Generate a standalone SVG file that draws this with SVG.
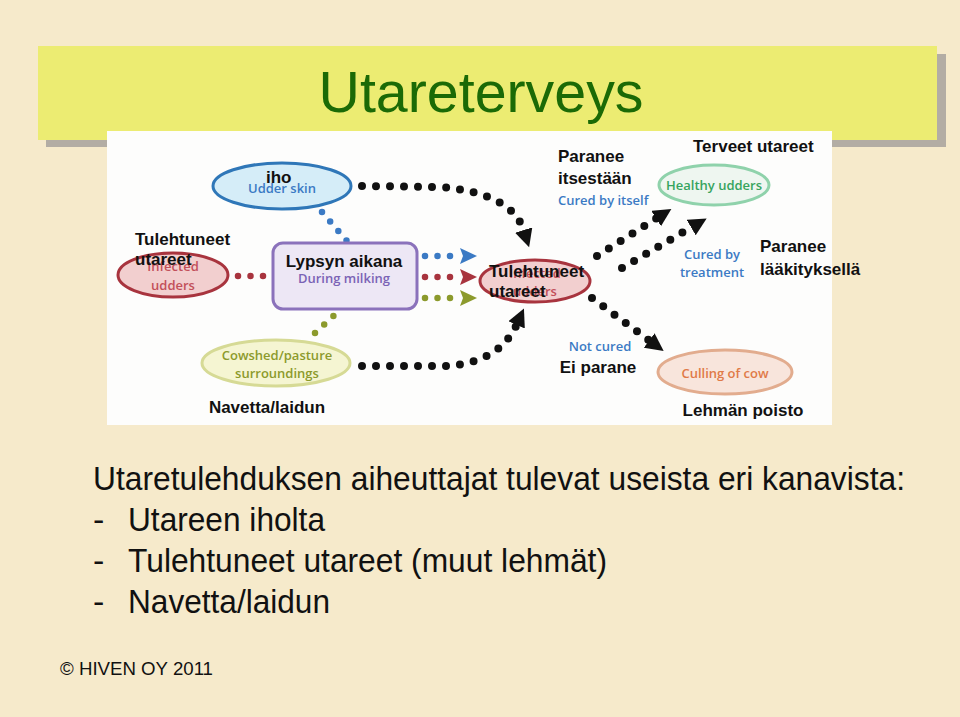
<svg xmlns="http://www.w3.org/2000/svg" width="960" height="717" viewBox="0 0 960 717">
<defs>
<style>
.bl{font-family:"Liberation Sans",Arial,sans-serif;font-weight:bold;font-size:17px;fill:#111}
.en{font-family:"Open Sans","Liberation Sans",sans-serif;font-weight:600;font-size:13px}
.body{font-family:"Liberation Sans Narrow","Liberation Sans",Arial,sans-serif;font-size:34px;fill:#111}
.dotk{fill:none;stroke:#111;stroke-width:8;stroke-linecap:round;stroke-dasharray:0 14}
.dotc{fill:none;stroke-width:6.5;stroke-linecap:round;stroke-dasharray:0 12.5}
</style>
<marker id="ak" markerUnits="userSpaceOnUse" markerWidth="22" markerHeight="22" refX="1" refY="9" orient="auto"><path d="M0,0 L18,9 L0,18 Z" fill="#111"/></marker>
<marker id="ab" markerUnits="userSpaceOnUse" markerWidth="20" markerHeight="20" refX="1" refY="8" orient="auto"><path d="M0,0 L17,8 L0,16 L3,8 Z" fill="#3b7ac4"/></marker>
<marker id="ar" markerUnits="userSpaceOnUse" markerWidth="20" markerHeight="20" refX="1" refY="8" orient="auto"><path d="M0,0 L17,8 L0,16 L3,8 Z" fill="#a8343e"/></marker>
<marker id="ag" markerUnits="userSpaceOnUse" markerWidth="20" markerHeight="20" refX="1" refY="8" orient="auto"><path d="M0,0 L17,8 L0,16 L3,8 Z" fill="#8c9a2c"/></marker>
</defs>
<rect width="960" height="717" fill="#f6eacb"/>
<rect x="46" y="54" width="900" height="93" fill="#b3ada4"/>
<rect x="38" y="46" width="899" height="94" fill="#ecec72"/>
<text x="481" y="112" text-anchor="middle" font-family="Liberation Sans Narrow,Liberation Sans,Arial,sans-serif" font-size="58" fill="#1b6a06" textLength="325" lengthAdjust="spacingAndGlyphs">Utareterveys</text>
<rect x="107" y="131" width="725" height="294" fill="#fdfdfc"/>

<g id="connectors">
<path class="dotk" d="M362,186 L440,187 Q512,193 524,231" marker-end="url(#ak)"/>
<path class="dotk" d="M362,366 L447,366 Q500,362 517,324" marker-end="url(#ak)"/>
<path class="dotk" d="M597,256 L657,218" marker-end="url(#ak)"/>
<path class="dotk" d="M622,268 L692,227" marker-end="url(#ak)"/>
<path class="dotk" d="M592,298 L650,341" marker-end="url(#ak)"/>
<path class="dotc" stroke="#3b7ac4" d="M322,212 L347,241"/>
<path class="dotc" stroke="#a8343e" d="M238,276 L268,276"/>
<path class="dotc" stroke="#8c9a2c" d="M315,333 L340,310"/>
<path class="dotc" stroke="#3b7ac4" d="M425,256 L450,256 L461,256" marker-end="url(#ab)"/>
<path class="dotc" stroke="#a8343e" d="M425,277 L450,277 L461,277" marker-end="url(#ar)"/>
<path class="dotc" stroke="#8c9a2c" d="M425,298 L450,298 L461,298" marker-end="url(#ag)"/>
</g>

<g id="iho">
<ellipse cx="282" cy="186" rx="69" ry="23" fill="#d5edf8" stroke="#2f77b8" stroke-width="3"/>
<text class="en" x="282" y="193" text-anchor="middle" fill="#3b7ac4">Udder skin</text>
<text class="bl" x="266" y="183">iho</text>
</g>

<g id="infected-left">
<ellipse cx="173" cy="275" rx="55" ry="22" fill="#f2cfcf" stroke="#a8343e" stroke-width="3"/>
<text class="en" x="173" y="271" text-anchor="middle" fill="#c2505a">Infected</text>
<text class="en" x="173" y="290" text-anchor="middle" fill="#c2505a">udders</text>
<text class="bl" x="135" y="245">Tulehtuneet</text>
<text class="bl" x="135" y="265">utareet</text>
</g>

<g id="lypsyn">
<rect x="273" y="243" width="144" height="66" rx="10" fill="#ede7f5" stroke="#8b72bb" stroke-width="3"/>
<text class="en" x="344" y="283" text-anchor="middle" fill="#7b63b5">During milking</text>
<text class="bl" x="344" y="267" text-anchor="middle">Lypsyn aikana</text>
</g>

<g id="cowshed">
<ellipse cx="276" cy="363" rx="74" ry="23" fill="#f5f5d2" stroke="#d6da95" stroke-width="3"/>
<text class="en" x="277" y="360" text-anchor="middle" fill="#8c9a2c">Cowshed/pasture</text>
<text class="en" x="277" y="378" text-anchor="middle" fill="#8c9a2c">surroundings</text>
<text class="bl" x="267" y="413" text-anchor="middle">Navetta/laidun</text>
</g>

<g id="infected-center">
<ellipse cx="535" cy="281" rx="55" ry="21" fill="#f2cfcf" stroke="#a8343e" stroke-width="3"/>
<text class="en" x="535" y="278" text-anchor="middle" fill="#c2505a">Infected</text>
<text class="en" x="535" y="296" text-anchor="middle" fill="#c2505a">udders</text>
<text class="bl" x="489" y="277">Tulehtuneet</text>
<text class="bl" x="489" y="297">utareet</text>
</g>

<g id="healthy">
<ellipse cx="714" cy="185" rx="55" ry="20" fill="#eef6f0" stroke="#8fd2ab" stroke-width="3"/>
<text class="en" x="714" y="190" text-anchor="middle" fill="#36a45e">Healthy udders</text>
<text class="bl" x="693" y="152">Terveet utareet</text>
</g>

<g id="cured-itself">
<text class="bl" x="558" y="162">Paranee</text>
<text class="bl" x="558" y="184">itsestään</text>
<text class="en" x="558" y="205" fill="#3b7ac4">Cured by itself</text>
</g>

<g id="cured-treatment">
<text class="en" x="712" y="259" text-anchor="middle" fill="#3b7ac4">Cured by</text>
<text class="en" x="712" y="277" text-anchor="middle" fill="#3b7ac4">treatment</text>
<text class="bl" x="760" y="252">Paranee</text>
<text class="bl" x="760" y="275">lääkityksellä</text>
</g>

<g id="not-cured">
<text class="en" x="600" y="351" text-anchor="middle" fill="#3b7ac4">Not cured</text>
<text class="bl" x="598" y="373" text-anchor="middle">Ei parane</text>
</g>

<g id="culling">
<ellipse cx="725" cy="372" rx="67" ry="22" fill="#f8e5dc" stroke="#e2ac8e" stroke-width="3"/>
<text class="en" x="725" y="378" text-anchor="middle" fill="#e07a48">Culling of cow</text>
<text class="bl" x="743" y="416" text-anchor="middle">Lehmän poisto</text>
</g>

<g id="body-text">
<text class="body" x="93" y="490" textLength="812" lengthAdjust="spacingAndGlyphs">Utaretulehduksen aiheuttajat tulevat useista eri kanavista:</text>
<text class="body" x="93" y="531">-</text>
<text class="body" x="128" y="531" textLength="197" lengthAdjust="spacingAndGlyphs">Utareen iholta</text>
<text class="body" x="93" y="572">-</text>
<text class="body" x="128" y="572" textLength="479" lengthAdjust="spacingAndGlyphs">Tulehtuneet utareet (muut lehmät)</text>
<text class="body" x="93" y="613">-</text>
<text class="body" x="128" y="613" textLength="202" lengthAdjust="spacingAndGlyphs">Navetta/laidun</text>
<text x="60" y="675" font-family="Liberation Sans Narrow,Liberation Sans,Arial,sans-serif" font-size="19" fill="#111" textLength="153" lengthAdjust="spacingAndGlyphs">© HIVEN OY 2011</text>
</g>
</svg>
